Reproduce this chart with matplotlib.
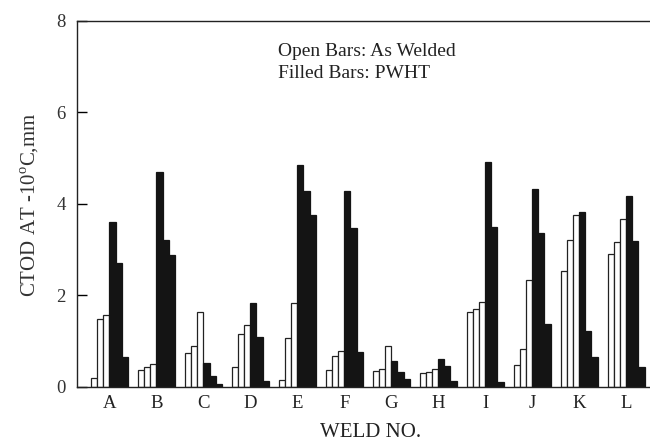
import numpy as np
import matplotlib
matplotlib.use('Agg')
import matplotlib.pyplot as plt

# weld ids
welds = ['A', 'B', 'C', 'D', 'E', 'F', 'G', 'H', 'I', 'J', 'K', 'L']

# CTOD values, mm (three specimens each)
as_welded = [
    [0.20, 1.48, 1.57], [0.36, 0.44, 0.50], [0.73, 0.88, 1.63], [0.44, 1.15, 1.35],
    [0.15, 1.07, 1.82], [0.36, 0.67, 0.79], [0.34, 0.38, 0.88], [0.29, 0.33, 0.38],
    [1.64, 1.70, 1.85], [0.47, 0.82, 2.33], [2.52, 3.21, 3.76], [2.90, 3.17, 3.67],
]
pwht = [
    [3.60, 2.71, 0.66], [4.70, 3.21, 2.88], [0.51, 0.23, 0.05], [1.82, 1.08, 0.13],
    [4.84, 4.27, 3.76], [4.27, 3.47, 0.77], [0.56, 0.33, 0.17], [0.60, 0.45, 0.13],
    [4.92, 3.49, 0.11], [4.32, 3.36, 1.37], [3.81, 1.22, 0.64], [4.18, 3.19, 0.44],
]

yticks = [0, 2, 4, 6, 8]

plt.rcParams['font.family'] = ['Liberation Serif', 'DejaVu Serif']

fig = plt.figure(figsize=(6.5, 4.44), dpi=100)
ax = fig.add_axes([0.1185, 0.129, 0.8815, 0.824])

w = 0.131
x = np.arange(len(welds))
for k in range(3):
    off = (k - 2.5) * w
    ax.bar(x + off, [v[k] for v in as_welded], w, color='white', edgecolor='#222222', linewidth=0.9)
for k in range(3):
    off = (k + 0.5) * w
    ax.bar(x + off, [v[k] for v in pwht], w, color='#141414', edgecolor='#141414', linewidth=0.9)

ax.set_xlim(-0.69, 11.51)
ax.set_ylim(0, 8)
ax.set_yticks(yticks)
ax.set_xticks(x)
ax.set_xticklabels(welds, fontsize=13.5, color='#222222')
ax.tick_params(axis='x', length=0, pad=6)
ax.tick_params(axis='y', direction='in', length=7, width=1, labelsize=13.5, pad=8, labelcolor='#333333')
ax.spines['right'].set_visible(False)
for s in ['left', 'top', 'bottom']:
    ax.spines[s].set_linewidth(1.0)
    ax.spines[s].set_color('#222222')

fig.text(30 / 650, 1 - 205 / 444, 'CTOD AT -10$^\\mathregular{o}$C,mm', rotation=90,
         fontsize=15, ha='center', va='center', color='#333333')
fig.text(371 / 650, 1 - 432 / 444, 'WELD NO.', fontsize=15, ha='center', va='center', color='#222222')

ax.text(0.351, 0.915, 'Open Bars: As Welded', transform=ax.transAxes, fontsize=14, va='center', color='#222222')
ax.text(0.351, 0.856, 'Filled Bars: PWHT', transform=ax.transAxes, fontsize=14, va='center', color='#222222')

plt.savefig('out.png', dpi=100)
